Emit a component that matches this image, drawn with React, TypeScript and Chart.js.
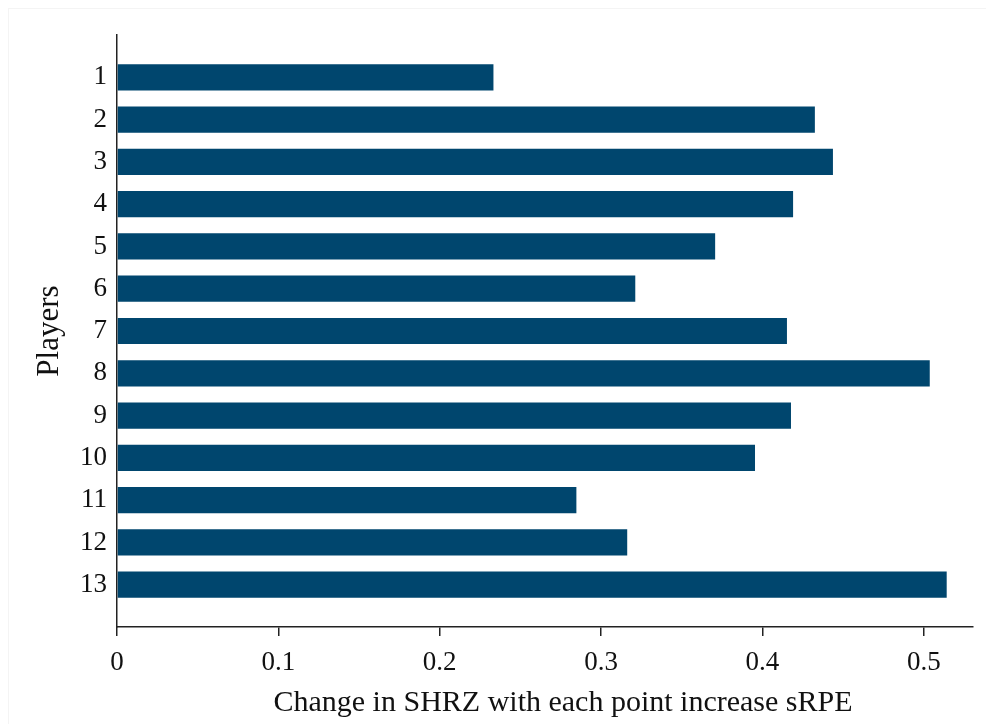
import React, { useEffect, useRef } from "react";
import { Chart, registerables } from "chart.js";

Chart.register(...registerables);

const players: string[] = ["1", "2", "3", "4", "5", "6", "7", "8", "9", "10", "11", "12", "13"];
const changeValues: number[] = [0.2333, 0.4325, 0.4437, 0.419, 0.3707, 0.3212, 0.4152, 0.5037, 0.4177, 0.3954, 0.2847, 0.3162, 0.5142];
const xTickValues: number[] = [0, 0.1, 0.2, 0.3, 0.4, 0.5];
const xMax = 0.5305;
const xTitle = "Change in SHRZ with each point increase sRPE";
const yTitle = "Players";

const FONT = "'Liberation Serif', 'DejaVu Serif', serif";
const BAR_COLOR = "#00466e";
const AXIS_COLOR = "#222222";

export default function App() {
  const ref = useRef<HTMLCanvasElement | null>(null);

  useEffect(() => {
    if (!ref.current) return;
    const data = players.map((p, i) => ({ x: changeValues[i], y: i + 1 }));
    const chart = new Chart(ref.current, {
      type: "bar",
      data: {
        datasets: [
          {
            data: data as any,
            backgroundColor: BAR_COLOR,
            borderWidth: 0,
            barPercentage: 0.62,
            categoryPercentage: 1,
          },
        ],
      },
      options: {
        indexAxis: "y",
        animation: false,
        responsive: false,
        maintainAspectRatio: false,
        layout: { padding: { left: 0, top: 35, right: 13, bottom: 0 } },
        plugins: { legend: { display: false }, tooltip: { enabled: false } },
        scales: {
          x: {
            type: "linear",
            min: 0,
            max: xMax,
            afterFit: (s: any) => {
              s.height = 97;
            },
            afterBuildTicks: (s: any) => {
              s.ticks = xTickValues.map((v) => ({ value: v }));
            },
            grid: {
              display: true,
              drawOnChartArea: false,
              drawTicks: true,
              tickLength: 9,
              color: AXIS_COLOR,
              lineWidth: 1.5,
            },
            border: { display: true, color: AXIS_COLOR, width: 1.5 },
            ticks: {
              font: { family: FONT, size: 27 },
              color: "#111",
              padding: 11,
              maxRotation: 0,
              callback: (v: any) => String(v),
            },
            title: {
              display: true,
              text: "\u2003\u2009" + xTitle,
              font: { family: FONT, size: 30 },
              color: "#111",
              padding: { top: 0, bottom: 3 },
            },
          },
          y: {
            type: "linear",
            min: 0,
            max: 14,
            reverse: true,
            offset: false,
            afterFit: (s: any) => {
              s.width = 117;
            },
            afterBuildTicks: (s: any) => {
              s.ticks = players.map((_, i) => ({ value: i + 1 }));
            },
            grid: { display: false, drawTicks: false },
            border: { display: true, color: AXIS_COLOR, width: 1.5 },
            ticks: {
              font: { family: FONT, size: 27 },
              color: "#111",
              padding: 10,
              callback: (v: any) => players[Number(v) - 1] ?? "",
            },
            title: {
              display: true,
              text: yTitle,
              font: { family: FONT, size: 31 },
              color: "#111",
              padding: { top: 31, bottom: 0 },
            },
          },
        },
      },
    });
    return () => chart.destroy();
  }, []);

  return (
    <div style={{ position: "absolute", left: 0, top: 0, width: 986, height: 724, background: "#fff" }}>
      <div
        style={{
          position: "absolute",
          left: 8,
          top: 8,
          width: 978,
          height: 716,
          borderLeft: "1px solid #f4f4f4",
          borderTop: "1px solid #f4f4f4",
          boxSizing: "border-box",
        }}
      />
      <canvas
        ref={ref}
        width={986}
        height={724}
        style={{ display: "block", position: "absolute", left: 0, top: 0 }}
      />
    </div>
  );
}
